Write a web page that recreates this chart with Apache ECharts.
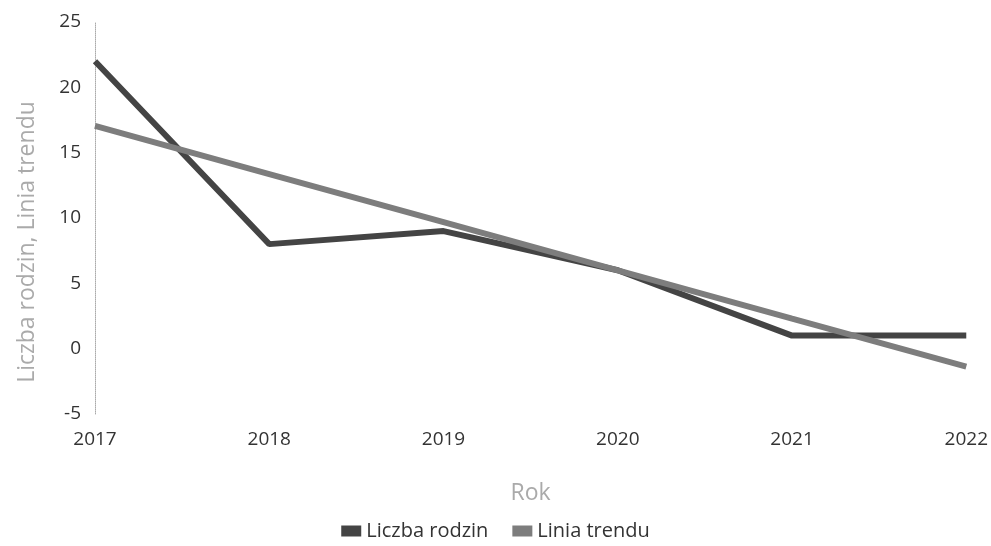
<!DOCTYPE html>
<html><head><meta charset="utf-8">
<script src="https://cdn.jsdelivr.net/npm/echarts@6/dist/echarts.min.js"></script>
<style>html,body{margin:0;padding:0;background:#fff}#c{width:991px;height:546px}</style>
</head><body><div id="c"></div>
<script>
const years = ['2017','2018','2019','2020','2021','2022'];
const liczbaRodzin = [22, 8, 9, 6, 1, 1];
const liniaTrendu = [17.05, 13.36, 9.68, 5.99, 2.30, -1.38];
const yTicks = {min: -5, max: 25, interval: 5};

const chart = echarts.init(document.getElementById('c'));
chart.setOption({
  animation: false,
  textStyle: {fontFamily: 'Open Sans'},
  grid: {left: 95, right: 24, top: 22, bottom: 132},
  legend: {
    bottom: 0, left: 'center', itemWidth: 20, itemHeight: 11, itemGap: 24,
    icon: 'rect',
    textStyle: {fontSize: 20, color: '#333', fontFamily: 'Open Sans'},
    data: ['Liczba rodzin', 'Linia trendu']
  },
  xAxis: {
    type: 'category', data: years, boundaryGap: false,
    name: 'Rok', nameLocation: 'middle', nameGap: 68,
    nameTextStyle: {fontSize: 23, color: '#aaa'},
    axisLine: {show: false}, axisTick: {show: false},
    axisLabel: {fontSize: 19, color: '#333', margin: 16}
  },
  yAxis: {
    type: 'value', min: yTicks.min, max: yTicks.max, interval: yTicks.interval,
    name: 'Liczba rodzin, Linia trendu', nameLocation: 'middle', nameGap: 56,
    nameTextStyle: {fontSize: 23, color: '#aaa', padding: [0, 48, 0, 0]},
    axisLine: {show: true, lineStyle: {color: '#aaa', type: 'dotted', width: 1}},
    axisTick: {show: false}, splitLine: {show: false},
    axisLabel: {fontSize: 19, color: '#333', margin: 14}
  },
  series: [
    {name: 'Liczba rodzin', type: 'line', data: liczbaRodzin, showSymbol: false,
     lineStyle: {color: '#444', width: 6}, itemStyle: {color: '#444'}},
    {name: 'Linia trendu', type: 'line', data: liniaTrendu, showSymbol: false,
     lineStyle: {color: '#7d7d7d', width: 6}, itemStyle: {color: '#7d7d7d'}}
  ]
});
</script></body></html>
